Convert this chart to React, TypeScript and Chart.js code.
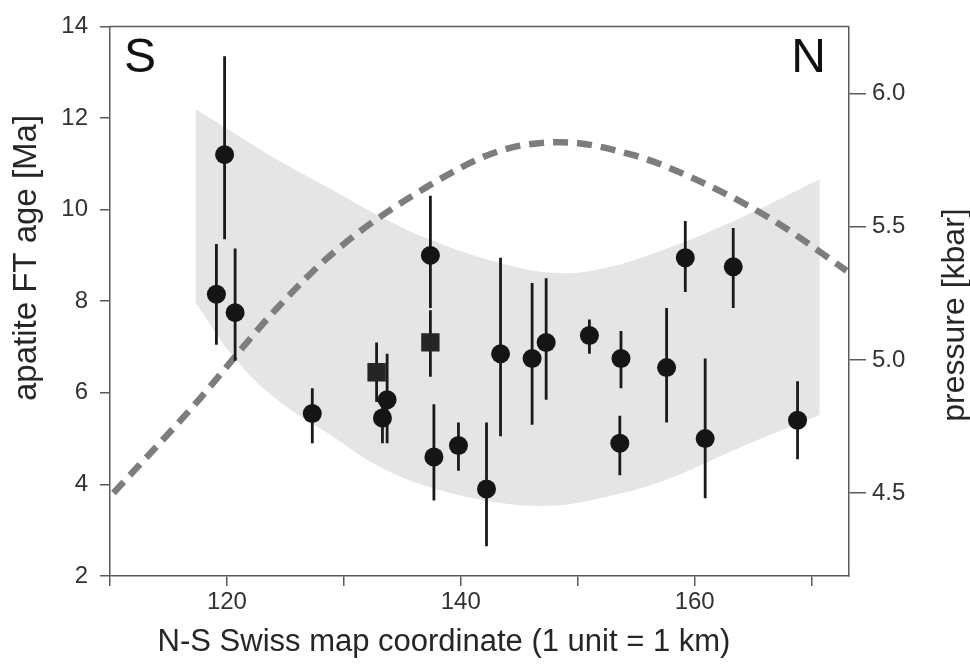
import React, { useEffect, useRef } from "react";
import { Chart, registerables } from "chart.js";

Chart.register(...registerables);

// Apatite fission-track ages (circles)
const circleX = [119.8, 119.1, 120.7, 127.3, 133.3, 133.7, 137.4, 137.7, 139.8, 142.2, 143.4, 146.1, 147.3, 151.0, 153.7, 153.6, 157.6, 159.2, 160.9, 163.3, 168.8];
const circleY = [11.2, 8.15, 7.75, 5.55, 5.45, 5.85, 9.0, 4.6, 4.85, 3.9, 6.85, 6.75, 7.1, 7.25, 6.75, 4.9, 6.55, 8.95, 5.0, 8.75, 5.4];
const circleLow = [9.35, 7.05, 6.7, 4.9, 4.9, 4.9, 7.85, 3.65, 4.3, 2.65, 5.05, 5.3, 5.85, 6.85, 6.1, 4.2, 5.35, 8.2, 3.7, 7.85, 4.55];
const circleHigh = [13.35, 9.25, 9.15, 6.1, 6.0, 6.85, 10.3, 5.75, 5.35, 5.35, 8.95, 8.4, 8.5, 7.6, 7.35, 5.5, 7.85, 9.75, 6.75, 9.6, 6.25];

// Squares
const squareX = [132.8, 137.4];
const squareY = [6.45, 7.1];
const squareLow = [5.8, 6.35];
const squareHigh = [7.1, 7.8];

// Grey envelope
const bandX = [117.3, 120.8, 124.5, 128.8, 133.1, 137.6, 143.3, 147.9, 151.9, 157.0, 164.1, 170.7];
const bandUpper = [12.2, 11.64, 11.06, 10.46, 9.85, 9.32, 8.84, 8.62, 8.7, 9.09, 9.84, 10.66];
const bandLower = [7.97, 6.71, 5.81, 5.09, 4.38, 3.92, 3.6, 3.54, 3.7, 4.05, 4.83, 5.52];

// Pressure curve (right axis)
const pressureX = [110.3, 117, 124.2, 129.3, 137.1, 143.3, 148.5, 154.7, 160, 166.7, 173];
const pressureY = [4.5, 4.82, 5.19, 5.41, 5.65, 5.785, 5.818, 5.77, 5.68, 5.525, 5.335];

const xTickLabels = [120, 140, 160];
const ageTicks = [2, 4, 6, 8, 10, 12, 14];
const pressureTicks = [4.5, 5.0, 5.5, 6.0];

const FONT = "'Liberation Sans', Arial, Helvetica, sans-serif";
const AXIS = "#5a5a5a";

function errorBarData(xs: number[], lo: number[], hi: number[]) {
  const out: { x: number; y: number | null }[] = [];
  xs.forEach((x, i) => {
    out.push({ x, y: lo[i] });
    out.push({ x, y: hi[i] });
    out.push({ x, y: null });
  });
  return out;
}

const textPlugin = {
  id: "texts",
  afterDraw(chart: any) {
    const { ctx, chartArea } = chart;
    ctx.save();
    // top frame line
    ctx.strokeStyle = AXIS;
    ctx.lineWidth = 1.5;
    ctx.beginPath();
    ctx.moveTo(chartArea.left, chartArea.top);
    ctx.lineTo(chartArea.right, chartArea.top);
    ctx.stroke();

    ctx.fillStyle = "#111";
    ctx.font = `48px ${FONT}`;
    ctx.textBaseline = "alphabetic";
    ctx.textAlign = "left";
    ctx.fillText("S", 124, 72);
    ctx.textAlign = "right";
    ctx.fillText("N", 826, 72);

    ctx.fillStyle = "#262626";
    ctx.font = `31px ${FONT}`;
    ctx.textAlign = "center";
    ctx.fillText("N-S Swiss map coordinate (1 unit = 1 km)", 444, 651);

    ctx.save();
    ctx.translate(27, 258);
    ctx.rotate(-Math.PI / 2);
    ctx.textBaseline = "middle";
    ctx.font = `33px ${FONT}`;
    ctx.fillText("apatite FT age [Ma]", 0, 0);
    ctx.restore();

    ctx.save();
    ctx.translate(955, 315);
    ctx.rotate(-Math.PI / 2);
    ctx.textBaseline = "middle";
    ctx.font = `32px ${FONT}`;
    ctx.fillText("pressure [kbar]", 0, 0);
    ctx.restore();
    ctx.restore();
  },
};

export default function App() {
  const ref = useRef<HTMLCanvasElement | null>(null);

  useEffect(() => {
    if (!ref.current) return;
    const chart = new Chart(ref.current, {
      type: "scatter",
      data: {
        datasets: [
          {
            type: "scatter",
            label: "circles",
            data: circleX.map((x, i) => ({ x, y: circleY[i] })),
            pointStyle: "circle",
            pointRadius: 9.5,
            backgroundColor: "#151515",
            borderColor: "#151515",
            borderWidth: 0,
            order: 0,
            yAxisID: "y",
          },
          {
            type: "scatter",
            label: "squares",
            data: squareX.map((x, i) => ({ x, y: squareY[i] })),
            pointStyle: "rect",
            pointRadius: 13,
            backgroundColor: "#252525",
            borderColor: "#252525",
            borderWidth: 0,
            order: 0,
            yAxisID: "y",
          },
          {
            type: "line",
            label: "errors",
            data: [
              ...errorBarData(circleX, circleLow, circleHigh),
              ...errorBarData(squareX, squareLow, squareHigh),
            ],
            borderColor: "#1a1a1a",
            borderWidth: 2.8,
            pointRadius: 0,
            spanGaps: false,
            tension: 0,
            fill: false,
            order: 1,
            yAxisID: "y",
          },
          {
            type: "line",
            label: "pressure",
            data: pressureX.map((x, i) => ({ x, y: pressureY[i] })),
            borderColor: "#7d7d7d",
            borderWidth: 6.5,
            borderDash: [15, 9],
            borderCapStyle: "butt",
            pointRadius: 0,
            cubicInterpolationMode: "monotone",
            fill: false,
            order: 2,
            yAxisID: "y2",
          },
          {
            type: "line",
            label: "bandLower",
            data: bandX.map((x, i) => ({ x, y: bandLower[i] })),
            borderWidth: 0,
            borderColor: "rgba(0,0,0,0)",
            pointRadius: 0,
            tension: 0.4,
            fill: false,
            order: 4,
            yAxisID: "y",
          },
          {
            type: "line",
            label: "bandUpper",
            data: bandX.map((x, i) => ({ x, y: bandUpper[i] })),
            borderWidth: 0,
            borderColor: "rgba(0,0,0,0)",
            backgroundColor: "#e5e5e5",
            pointRadius: 0,
            tension: 0.4,
            fill: { target: 4 },
            order: 3,
            yAxisID: "y",
          },
        ],
      },
      options: {
        animation: false,
        responsive: true,
        maintainAspectRatio: false,
        events: [],
        layout: { padding: { top: 21, left: 0, right: 0, bottom: 0 } },
        plugins: {
          legend: { display: false },
          tooltip: { enabled: false },
        },
        scales: {
          x: {
            type: "linear",
            position: "bottom",
            min: 110,
            max: 173.2,
            afterFit: (s: any) => {
              s.height = 88;
            },
            ticks: {
              stepSize: 10,
              includeBounds: false,
              autoSkip: false,
              maxRotation: 0,
              padding: 2,
              color: "#333",
              font: { family: FONT, size: 24 },
              callback: (v: any) => (xTickLabels.includes(Number(v)) ? String(v) : ""),
            },
            grid: { display: true, drawOnChartArea: false, drawTicks: true, tickLength: 10, color: AXIS, lineWidth: 1.5 },
            border: { display: true, color: AXIS, width: 1.5 },
          },
          y: {
            type: "linear",
            position: "left",
            min: 2,
            max: 14,
            afterFit: (s: any) => {
              s.width = 110;
            },
            afterBuildTicks: (s: any) => {
              s.ticks = ageTicks.map((v) => ({ value: v }));
            },
            ticks: {
              padding: 12,
              color: "#333",
              font: { family: FONT, size: 24 },
              callback: (v: any) => String(v),
            },
            grid: { display: true, drawOnChartArea: false, drawTicks: true, tickLength: 10, color: AXIS, lineWidth: 1.5 },
            border: { display: true, color: AXIS, width: 1.5 },
          },
          y2: {
            type: "linear",
            position: "right",
            min: 4.188,
            max: 6.253,
            afterFit: (s: any) => {
              s.width = 121;
            },
            afterBuildTicks: (s: any) => {
              s.ticks = pressureTicks.map((v) => ({ value: v }));
            },
            ticks: {
              padding: 6,
              color: "#333",
              font: { family: FONT, size: 24 },
              callback: (v: any) => Number(v).toFixed(1),
            },
            grid: { display: true, drawOnChartArea: false, drawTicks: true, tickLength: 17, color: AXIS, lineWidth: 1.5 },
            border: { display: true, color: AXIS, width: 1.5 },
          },
        },
      } as any,
      plugins: [textPlugin],
    });
    return () => chart.destroy();
  }, []);

  return (
    <div style={{ position: "absolute", left: 0, top: 0, width: 970, height: 664, background: "#fff" }}>
      <canvas ref={ref} />
    </div>
  );
}
